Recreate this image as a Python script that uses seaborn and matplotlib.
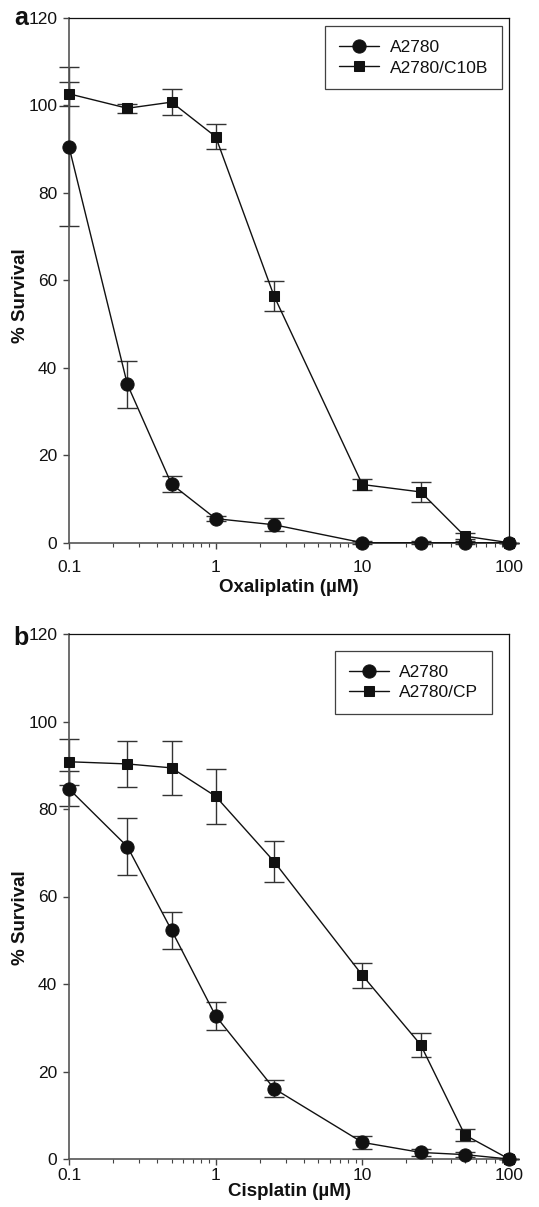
import numpy as np
import pandas as pd
import matplotlib
matplotlib.use("Agg")
import matplotlib.pyplot as plt
import seaborn as sns
from matplotlib.ticker import FixedLocator, FixedFormatter, LogLocator, NullFormatter

# ---- data ----
conc = [0.1, 0.25, 0.5, 1, 2.5, 10, 25, 50, 100]

a_a2780 = [90.5, 36.2, 13.4, 5.5, 4.1, 0, 0, 0, 0]
a_a2780_err = [18.2, 5.3, 1.9, 0.6, 1.5, 0.3, 0.3, 0.3, 0]
a_c10b = [102.6, 99.3, 100.7, 92.8, 56.4, 13.3, 11.6, 1.5, 0]
a_c10b_err = [2.8, 1.0, 3.0, 2.8, 3.5, 1.3, 2.3, 0.7, 0]

b_a2780 = [84.6, 71.4, 52.3, 32.7, 16.1, 3.8, 1.5, 1.0, 0]
b_a2780_err = [4.0, 6.5, 4.2, 3.3, 2.0, 1.5, 0.8, 0.5, 0]
b_cp = [90.8, 90.3, 89.4, 82.9, 68.0, 42.0, 26.1, 5.5, 0]
b_cp_err = [5.3, 5.3, 6.2, 6.3, 4.7, 2.9, 2.8, 1.3, 0]

y_ticks = [0, 20, 40, 60, 80, 100, 120]
x_ticks = [0.1, 1, 10, 100]
x_tick_labels = ["0.1", "1", "10", "100"]

sns.set_style("ticks")
plt.rcParams['font.family'] = ['Liberation Sans', 'DejaVu Sans']

W, H = 539, 1207
fig = plt.figure(figsize=(W / 100, H / 100), dpi=100)

def px_axes(left, top, right, bottom):
    return fig.add_axes([left / W, 1 - bottom / H, (right - left) / W, (bottom - top) / H])

ax_a = px_axes(69, 17.7, 509, 542.7)
ax_b = px_axes(69, 634, 509, 1159)

ink = "#111111"

def draw(ax, s1, e1, l1, s2, e2, l2, xlabel, legend_anchor, tick_pad, label_pad, ylabel_y):
    df = pd.DataFrame({
        "conc": conc * 2,
        "surv": list(s1) + list(s2),
        "err": list(e1) + list(e2),
        "line": [l1] * len(conc) + [l2] * len(conc),
    })
    for lab, mk, ms in [(l1, "o", 9.5), (l2, "s", 7.5)]:
        sub = df[df["line"] == lab]
        ax.errorbar(sub["conc"], sub["surv"], yerr=sub["err"], fmt="none",
                    ecolor="#333333", elinewidth=1.0, capsize=7, capthick=1.0,
                    zorder=2, clip_on=False)
        sns.lineplot(data=sub, x="conc", y="surv", ax=ax, color=ink, lw=1.0,
                     marker=mk, markersize=ms, markeredgecolor=ink,
                     markerfacecolor=ink, label=lab, zorder=3, clip_on=False,
                     errorbar=None)
    ax.set_xscale("log")
    ax.set_xlim(0.1, 100)
    ax.set_ylim(0, 120)
    ax.xaxis.set_major_locator(FixedLocator(x_ticks))
    ax.xaxis.set_major_formatter(FixedFormatter(x_tick_labels))
    ax.xaxis.set_minor_locator(LogLocator(base=10, subs=np.arange(2, 10)))
    ax.xaxis.set_minor_formatter(NullFormatter())
    ax.yaxis.set_major_locator(FixedLocator(y_ticks))
    ax.tick_params(axis="both", which="major", direction="out", length=4.5,
                   width=1.0, color="#444444", labelsize=12.5, labelcolor=ink)
    ax.tick_params(axis="x", which="major", pad=tick_pad)
    ax.tick_params(axis="y", which="major", pad=4)
    ax.tick_params(axis="x", which="minor", direction="out", length=3,
                   width=0.8, color="#444444")
    for side in ["left", "bottom"]:
        ax.spines[side].set_color("#555555")
        ax.spines[side].set_linewidth(1.2)
    for side in ["top", "right"]:
        ax.spines[side].set_visible(True)
        ax.spines[side].set_color(ink)
        ax.spines[side].set_linewidth(0.9)
    ax.set_xlabel(xlabel, fontsize=13.5, fontweight="bold", color=ink, labelpad=label_pad)
    ax.set_ylabel("% Survival", fontsize=13.5, fontweight="bold", color=ink)
    ax.yaxis.set_label_coords(-0.09, ylabel_y)
    leg = ax.legend(loc="upper right", bbox_to_anchor=legend_anchor,
                    borderaxespad=0, frameon=True, fancybox=False, fontsize=12.5,
                    handlelength=2.3, handletextpad=0.6, labelspacing=0.3,
                    borderpad=0.8, numpoints=1)
    leg.get_frame().set_edgecolor(ink)
    leg.get_frame().set_linewidth(0.9)
    for t in leg.get_texts():
        t.set_color(ink)

draw(ax_a, a_a2780, a_a2780_err, "A2780", a_c10b, a_c10b_err, "A2780/C10B",
     "Oxaliplatin (\u00b5M)", (0.984, 0.984), tick_pad=8, label_pad=3, ylabel_y=0.47)
draw(ax_b, b_a2780, b_a2780_err, "A2780", b_cp, b_cp_err, "A2780/CP",
     "Cisplatin (\u00b5M)", (0.961, 0.968), tick_pad=2, label_pad=0, ylabel_y=0.46)

fig.text(14 / W, 1 - 25 / H, "a", fontsize=18, fontweight="bold", color=ink)
fig.text(13 / W, 1 - 645 / H, "b", fontsize=18, fontweight="bold", color=ink)

fig.savefig("out.png", dpi=100)
